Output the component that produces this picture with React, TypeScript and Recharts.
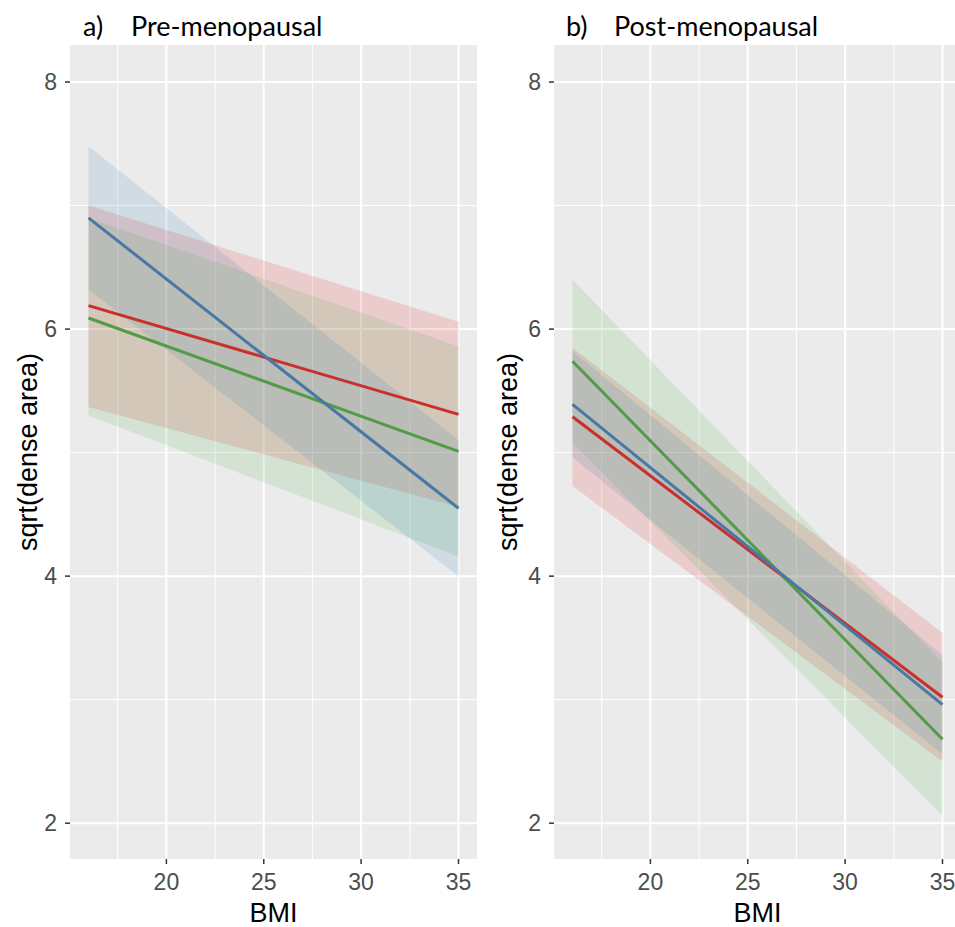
import React from "react";
import {
  Area,
  CartesianGrid,
  ComposedChart,
  Customized,
  Line,
  XAxis,
  YAxis,
} from "recharts";

// BMI at the two ends of each fitted line
const bmi = [16, 35];

// a) pre-menopausal: fit, lower and upper band
const preRedFit = [6.19, 5.31];
const preRedLow = [5.37, 4.56];
const preRedHigh = [7.0, 6.06];
const preGreenFit = [6.09, 5.01];
const preGreenLow = [5.3, 4.16];
const preGreenHigh = [6.9, 5.86];
const preBlueFit = [6.9, 4.55];
const preBlueLow = [6.32, 4.0];
const preBlueHigh = [7.48, 5.1];

// b) post-menopausal
const postRedFit = [5.29, 3.02];
const postRedLow = [4.73, 2.5];
const postRedHigh = [5.85, 3.54];
const postGreenFit = [5.74, 2.68];
const postGreenLow = [5.08, 2.06];
const postGreenHigh = [6.4, 3.3];
const postBlueFit = [5.39, 2.96];
const postBlueLow = [4.96, 2.56];
const postBlueHigh = [5.82, 3.36];

const xTicks = [20, 25, 30, 35];
const xMinor = [17.5, 22.5, 27.5, 32.5];
const yTicks = [2, 4, 6, 8];
const yMinor = [3, 5, 7];

const RED = "#C9302C";
const GREEN = "#529B48";
const BLUE = "#4878A3";
const RED_FILL = "#E41A1C";
const GREEN_FILL = "#4DAF4A";
const BLUE_FILL = "#377EB8";

const SANS = "'Liberation Sans', Arial, sans-serif";

type Series = {
  fit: number[];
  low: number[];
  high: number[];
};

function buildRows(red: Series, green: Series, blue: Series) {
  return bmi.map((x, i) => ({
    bmi: x,
    red: red.fit[i],
    redBand: [red.low[i], red.high[i]],
    green: green.fit[i],
    greenBand: [green.low[i], green.high[i]],
    blue: blue.fit[i],
    blueBand: [blue.low[i], blue.high[i]],
  }));
}

const preRows = buildRows(
  { fit: preRedFit, low: preRedLow, high: preRedHigh },
  { fit: preGreenFit, low: preGreenLow, high: preGreenHigh },
  { fit: preBlueFit, low: preBlueLow, high: preBlueHigh }
);
const postRows = buildRows(
  { fit: postRedFit, low: postRedLow, high: postRedHigh },
  { fit: postGreenFit, low: postGreenLow, high: postGreenHigh },
  { fit: postBlueFit, low: postBlueLow, high: postBlueHigh }
);

function YTitle({ viewBox }: any) {
  const x = viewBox.x + 37;
  const y = 452;
  return (
    <text
      x={x}
      y={y}
      transform={`rotate(-90, ${x}, ${y})`}
      textAnchor="middle"
      fontFamily={SANS}
      fontSize={27}
      fill="#000"
    >
      sqrt(dense area)
    </text>
  );
}

function XTitle({ viewBox }: any) {
  return (
    <text
      x={viewBox.x + viewBox.width / 2}
      y={922}
      textAnchor="middle"
      fontFamily={SANS}
      fontSize={27}
      fill="#000"
    >
      BMI
    </text>
  );
}

function Panel({
  rows,
  letter,
  title,
  axisWidth,
  width,
  letterX,
  titleX,
}: {
  rows: any[];
  letter: string;
  title: string;
  axisWidth: number;
  width: number;
  letterX: number;
  titleX: number;
}) {
  const bands: [string, string][] = [
    ["redBand", RED_FILL],
    ["greenBand", GREEN_FILL],
    ["blueBand", BLUE_FILL],
  ];
  const lines: [string, string][] = [
    ["red", RED],
    ["green", GREEN],
    ["blue", BLUE],
  ];
  return (
    <ComposedChart
      width={width}
      height={927}
      data={rows}
      margin={{ top: 45, right: 0, left: 0, bottom: 0 }}
    >
      <CartesianGrid
        fill="#EBEBEB"
        fillOpacity={1}
        stroke="#FFFFFF"
        strokeWidth={1}
        verticalValues={xMinor}
        horizontalValues={yMinor}
      />
      <CartesianGrid
        stroke="#FFFFFF"
        strokeWidth={2}
        verticalValues={xTicks}
        horizontalValues={yTicks}
      />
      <XAxis
        dataKey="bmi"
        type="number"
        domain={[15.05, 35.95]}
        ticks={xTicks}
        height={68}
        axisLine={false}
        tickLine={{ stroke: "#333333", strokeWidth: 1.5 }}
        tickSize={5}
        tickMargin={10}
        tick={{ fill: "#4D4D4D", fontSize: 23, fontFamily: SANS }}
        label={<XTitle />}
      />
      <YAxis
        type="number"
        domain={[1.71, 8.3]}
        ticks={yTicks}
        width={axisWidth}
        axisLine={false}
        tickLine={{ stroke: "#333333", strokeWidth: 1.5 }}
        tickSize={5}
        tickMargin={8}
        tick={{ fill: "#4D4D4D", fontSize: 23, fontFamily: SANS }}
        label={<YTitle />}
      />
      {bands.map(([key, color]) => (
        <Area
          key={key}
          dataKey={key}
          type="linear"
          stroke="none"
          fill={color}
          fillOpacity={0.15}
          dot={false}
          activeDot={false}
          isAnimationActive={false}
        />
      ))}
      {lines.map(([key, color]) => (
        <Line
          key={key}
          dataKey={key}
          type="linear"
          stroke={color}
          strokeWidth={3}
          dot={false}
          activeDot={false}
          isAnimationActive={false}
        />
      ))}
      <Customized
        component={() => (
          <g fontFamily="Lato, 'Open Sans', sans-serif" fontSize={27} fill="#000">
            <text x={letterX} y={36}>
              {letter}
            </text>
            <text x={titleX} y={36}>
              {title}
            </text>
          </g>
        )}
      />
    </ComposedChart>
  );
}

export default function App() {
  return (
    <div
      style={{
        position: "absolute",
        left: 0,
        top: 0,
        width: 955,
        height: 927,
        overflow: "hidden",
        background: "#FFFFFF",
      }}
    >
      <div style={{ position: "absolute", left: 0, top: 0 }}>
        <Panel
          rows={preRows}
          letter="a)"
          title="Pre-menopausal"
          axisWidth={70}
          width={477}
          letterX={83}
          titleX={131}
        />
      </div>
      <div style={{ position: "absolute", left: 480, top: 0 }}>
        <Panel
          rows={postRows}
          letter="b)"
          title="Post-menopausal"
          axisWidth={74}
          width={481}
          letterX={86}
          titleX={134}
        />
      </div>
    </div>
  );
}
